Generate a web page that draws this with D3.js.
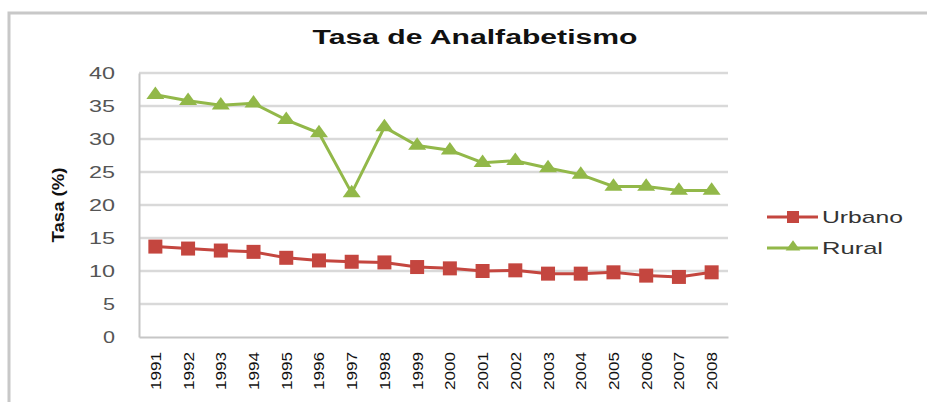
<!DOCTYPE html>
<html>
<head>
<meta charset="utf-8">
<script src="https://cdn.jsdelivr.net/npm/d3@7"></script>
<style>
  body { margin: 0; background: #fff; }
  svg { display: block; font-family: Arial, "Liberation Sans", sans-serif; }
</style>
</head>
<body>
<svg id="chart"></svg>
<script>
// Data
const years = ['1991', '1992', '1993', '1994', '1995', '1996', '1997', '1998', '1999',
  '2000', '2001', '2002', '2003', '2004', '2005', '2006', '2007', '2008'];
const urbano = [13.7, 13.4, 13.1, 12.9, 12.0, 11.6, 11.4, 11.3, 10.6,
  10.4, 10.0, 10.1, 9.6, 9.6, 9.8, 9.3, 9.1, 9.8];
const rural = [36.7, 35.8, 35.1, 35.4, 32.9, 30.9, 21.8, 31.8, 29.0,
  28.3, 26.4, 26.7, 25.6, 24.6, 22.8, 22.8, 22.2, 22.2];
const yTicks = [0, 5, 10, 15, 20, 25, 30, 35, 40];
const seriesNames = ['Urbano', 'Rural'];

const config = {
  width: 927,
  height: 402,
  margin: { top: 73, right: 199, bottom: 65, left: 139 },
  colors: { Urbano: '#c4463f', Rural: '#92b849' },
};

const series = [
  { name: seriesNames[0], values: urbano, shape: 'square' },
  { name: seriesNames[1], values: rural, shape: 'triangle' },
];

const svg = d3.select('#chart')
  .attr('width', config.width)
  .attr('height', config.height);

// outer frame
svg.append('path')
  .attr('d', `M9,${config.height + 5} V13 H${config.width + 5}`)
  .attr('fill', 'none')
  .attr('stroke', '#c8c8c8')
  .attr('stroke-width', 3);

const innerW = config.width - config.margin.left - config.margin.right;
const innerH = config.height - config.margin.top - config.margin.bottom;

const chart = svg.append('g')
  .attr('transform', `translate(${config.margin.left},${config.margin.top})`);

const xScale = d3.scaleBand().domain(years).range([0, innerW]);
const yScale = d3.scaleLinear().domain([0, 40]).range([innerH, 0]);
const xPos = d => xScale(d) + xScale.bandwidth() / 2;

// gridlines
chart.append('g')
  .selectAll('line')
  .data(yTicks.filter(t => t > 0))
  .join('line')
  .attr('x1', 0)
  .attr('x2', innerW)
  .attr('y1', d => yScale(d))
  .attr('y2', d => yScale(d))
  .attr('stroke', '#d9d9d9')
  .attr('stroke-width', 2.5);

// y axis
const yAxis = d3.axisLeft(yScale).tickValues(yTicks).tickSize(0).tickPadding(24);
const yAxisG = chart.append('g').call(yAxis);
yAxisG.select('.domain').attr('stroke', '#c6c6c6').attr('stroke-width', 2);
yAxisG.selectAll('text')
  .attr('font-size', 16)
  .attr('fill', '#555')
  .attr('font-family', 'Arial, "Liberation Sans", sans-serif')
  .each(function (d) {
    d3.select(this)
      .attr('textLength', String(d).length === 1 ? 12 : 26)
      .attr('lengthAdjust', 'spacingAndGlyphs');
  });

// x axis
const xAxis = d3.axisBottom(xScale).tickSize(0).tickPadding(0);
const xAxisG = chart.append('g')
  .attr('transform', `translate(0,${innerH})`)
  .call(xAxis);
xAxisG.select('.domain').attr('stroke', '#c6c6c6').attr('stroke-width', 2);
xAxisG.selectAll('text')
  .attr('font-size', 15)
  .attr('fill', '#111')
  .attr('font-family', 'Arial, "Liberation Sans", sans-serif')
  .attr('text-anchor', 'end')
  .attr('dy', null)
  .attr('y', 0)
  .attr('x', 0)
  .attr('dominant-baseline', 'central')
  .attr('textLength', 38)
  .attr('lengthAdjust', 'spacingAndGlyphs')
  .attr('transform', 'translate(0,15) rotate(-90)');

// lines
const line = d3.line()
  .x((v, i) => xPos(years[i]))
  .y(v => yScale(v));

const triangle = d3.symbol().type(d3.symbolTriangle).size(90);

series.forEach(s => {
  const color = config.colors[s.name];
  chart.append('path')
    .datum(s.values)
    .attr('fill', 'none')
    .attr('stroke', color)
    .attr('stroke-width', 3)
    .attr('d', line);

  const markers = chart.append('g')
    .selectAll('.mk')
    .data(s.values)
    .join(s.shape === 'square' ? 'rect' : 'path')
    .attr('fill', color);

  if (s.shape === 'square') {
    markers
      .attr('x', (v, i) => xPos(years[i]) - 7)
      .attr('y', v => yScale(v) - 7)
      .attr('width', 14)
      .attr('height', 14);
  } else {
    markers
      .attr('d', triangle)
      .attr('transform', (v, i) => `translate(${xPos(years[i])},${yScale(v)}) scale(1.25,1)`);
  }
});

// title
svg.append('text')
  .attr('x', 475)
  .attr('y', 44)
  .attr('text-anchor', 'middle')
  .attr('font-size', 20)
  .attr('font-weight', 'bold')
  .attr('fill', '#111')
  .attr('textLength', 325)
  .attr('lengthAdjust', 'spacingAndGlyphs')
  .text('Tasa de Analfabetismo');

// y axis title
svg.append('text')
  .attr('transform', 'translate(58,205) rotate(-90)')
  .attr('text-anchor', 'middle')
  .attr('dominant-baseline', 'central')
  .attr('font-size', 16)
  .attr('font-weight', 'bold')
  .attr('fill', '#111')
  .attr('textLength', 75)
  .attr('lengthAdjust', 'spacingAndGlyphs')
  .text('Tasa (%)');

// legend
const legend = svg.append('g').attr('transform', 'translate(767,217)');
const legendWidths = { Urbano: 81, Rural: 61 };
series.forEach((s, i) => {
  const color = config.colors[s.name];
  const g = legend.append('g').attr('transform', `translate(0,${i * 31})`);
  g.append('line')
    .attr('x1', 0).attr('x2', 51)
    .attr('stroke', color)
    .attr('stroke-width', 3);
  if (s.shape === 'square') {
    g.append('rect')
      .attr('x', 20).attr('y', -6)
      .attr('width', 12).attr('height', 12)
      .attr('fill', color);
  } else {
    g.append('path')
      .attr('d', d3.symbol().type(d3.symbolTriangle).size(60))
      .attr('transform', 'translate(26,-1) scale(1.25,1)')
      .attr('fill', color);
  }
  g.append('text')
    .attr('x', 55)
    .attr('y', 0)
    .attr('dominant-baseline', 'central')
    .attr('font-size', 17)
    .attr('fill', '#333')
    .attr('textLength', legendWidths[s.name])
    .attr('lengthAdjust', 'spacingAndGlyphs')
    .text(s.name);
});
</script>
</body>
</html>
